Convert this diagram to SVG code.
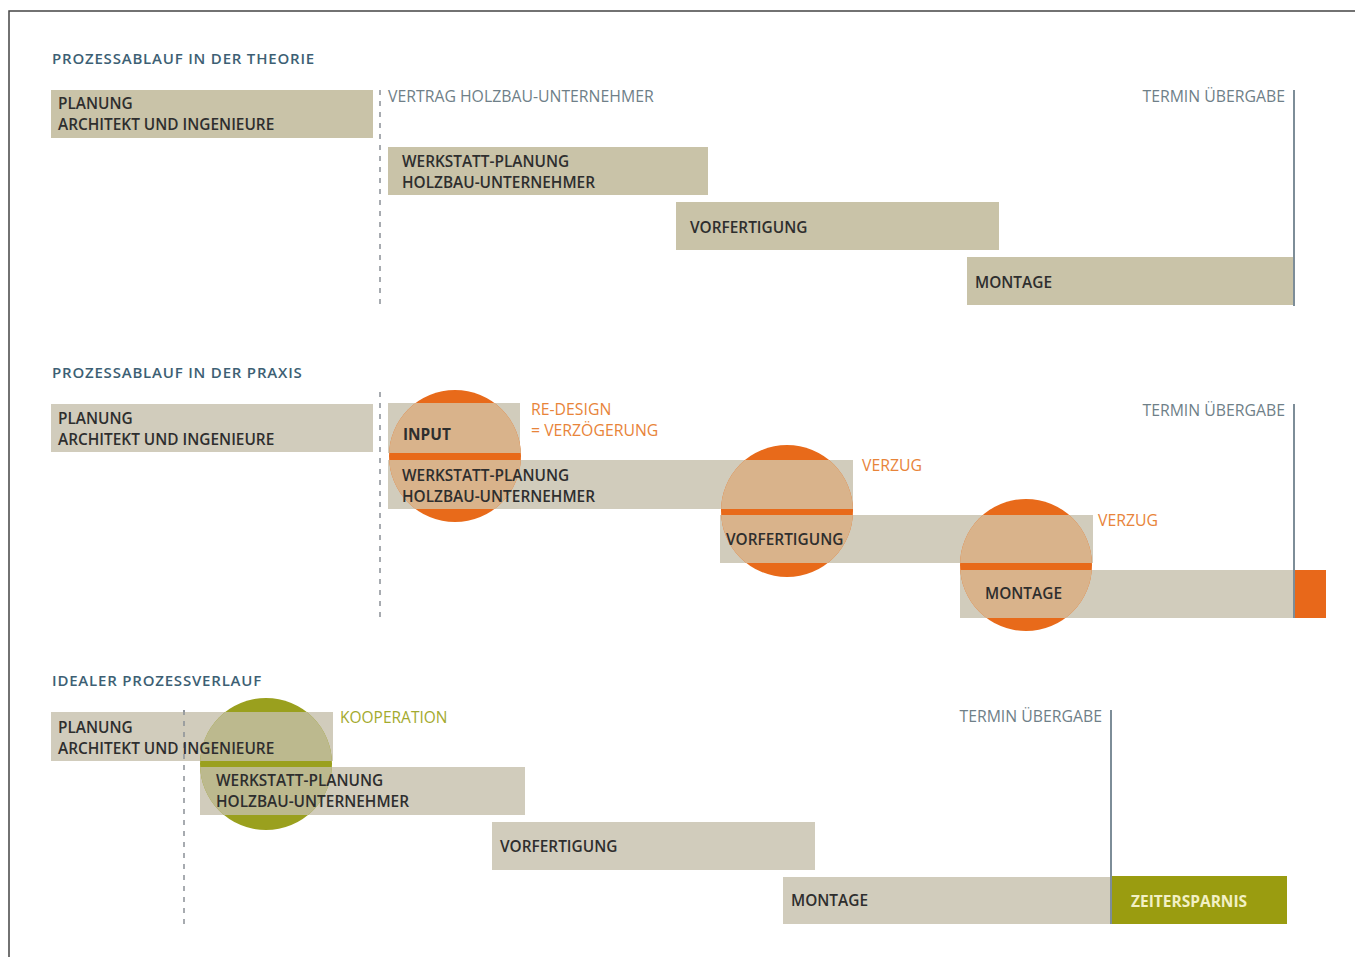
<svg xmlns="http://www.w3.org/2000/svg" width="1355" height="957" viewBox="0 0 1355 957">
<style>
.hd{font-family:"Open Sans","Liberation Sans",sans-serif;font-size:15px;font-weight:600;letter-spacing:0.8px;fill:#3d5f74}
.lb{font-family:"Open Sans","Liberation Sans",sans-serif;font-size:15.4px;font-weight:600;fill:#2e2e2e}
.gr{font-family:"Open Sans","Liberation Sans",sans-serif;font-size:15.8px;fill:#6f7f88}
.or{font-family:"Open Sans","Liberation Sans",sans-serif;font-size:15.8px;fill:#e8843a}
.ol{font-family:"Open Sans","Liberation Sans",sans-serif;font-size:15.5px;fill:#a3aa2e}
.b1{fill:#c9c3a8}
.b2{fill:#d1ccbc}
.dash{stroke:#8a9096;stroke-width:1.5;stroke-dasharray:5,6;fill:none}
.term{stroke:#7d8d98;stroke-width:2;fill:none}
.tan{fill:#d9b38b}
.orc{fill:#e86a1a}
</style>
<defs>
<clipPath id="c1"><circle cx="455" cy="456" r="66"/></clipPath>
<clipPath id="c2"><circle cx="787" cy="511" r="66"/></clipPath>
<clipPath id="c3"><circle cx="1026" cy="565" r="66"/></clipPath>
<clipPath id="c4"><circle cx="266" cy="764" r="66"/></clipPath>
</defs>
<rect x="0" y="0" width="1355" height="957" fill="#ffffff"/>
<path d="M9,957 V11 H1355" stroke="#444" stroke-width="1.5" fill="none"/>

<g id="connectors">
<line class="dash" x1="380" y1="90" x2="380" y2="305"/>
<line class="term" x1="1294" y1="90" x2="1294" y2="306"/>
<line class="dash" x1="380" y1="392" x2="380" y2="620"/>
<line class="dash" x1="184" y1="710" x2="184" y2="925"/>
</g>

<!-- Section 1 -->
<g id="theorie">
<text class="hd" x="52" y="64">PROZESSABLAUF IN DER THEORIE</text>
<text class="gr" x="388" y="102">VERTRAG HOLZBAU-UNTERNEHMER</text>
<text class="gr" x="1285" y="102" text-anchor="end">TERMIN ÜBERGABE</text>
</g>
<g id="t-planung">
<rect class="b1" x="51" y="90" width="322" height="48"/>
<text class="lb" x="58" y="109">PLANUNG</text>
<text class="lb" x="58" y="130">ARCHITEKT UND INGENIEURE</text>
</g>
<g id="t-werkstatt">
<rect class="b1" x="388" y="147" width="320" height="48"/>
<text class="lb" x="402" y="167">WERKSTATT-PLANUNG</text>
<text class="lb" x="402" y="188">HOLZBAU-UNTERNEHMER</text>
</g>
<g id="t-vorfertigung">
<rect class="b1" x="676" y="202" width="323" height="48"/>
<text class="lb" x="690" y="233">VORFERTIGUNG</text>
</g>
<g id="t-montage">
<rect class="b1" x="967" y="257" width="326" height="48"/>
<text class="lb" x="975" y="288">MONTAGE</text>
</g>

<!-- Section 2 -->
<g id="praxis">
<text class="hd" x="52" y="378">PROZESSABLAUF IN DER PRAXIS</text>
<text class="gr" x="1285" y="416" text-anchor="end">TERMIN ÜBERGABE</text>
<line class="term" x1="1294" y1="404" x2="1294" y2="618"/>
</g>
<g id="p-planung">
<rect class="b2" x="51" y="404" width="322" height="48"/>
<text class="lb" x="58" y="424">PLANUNG</text>
<text class="lb" x="58" y="445">ARCHITEKT UND INGENIEURE</text>
</g>
<g id="p-input">
<rect class="b2" x="388" y="403" width="132" height="50"/>
<rect class="b2" x="388" y="460" width="465" height="49"/>
<circle class="orc" cx="455" cy="456" r="66"/>
<g clip-path="url(#c1)">
<rect class="tan" x="380" y="403" width="150" height="50"/>
<rect class="tan" x="380" y="460" width="150" height="49"/>
</g>
<text class="lb" x="403" y="440" style="font-weight:700">INPUT</text>
<text class="lb" x="402" y="481">WERKSTATT-PLANUNG</text>
<text class="lb" x="402" y="502">HOLZBAU-UNTERNEHMER</text>
<text class="or" x="531" y="415">RE-DESIGN</text>
<text class="or" x="531" y="436">= VERZÖGERUNG</text>
</g>
<g id="p-vorfertigung">
<rect class="b2" x="720" y="515" width="373" height="48"/>
<circle class="orc" cx="787" cy="511" r="66"/>
<g clip-path="url(#c2)">
<rect class="tan" x="715" y="460" width="145" height="49"/>
<rect class="tan" x="715" y="515" width="145" height="48"/>
</g>
<text class="lb" x="726" y="545">VORFERTIGUNG</text>
<text class="or" x="862" y="471">VERZUG</text>
</g>
<g id="p-montage">
<rect class="b2" x="960" y="570" width="333" height="48"/>
<rect x="1295" y="570" width="31" height="48" fill="#e8681a"/>
<circle class="orc" cx="1026" cy="565" r="66"/>
<g clip-path="url(#c3)">
<rect class="tan" x="955" y="515" width="145" height="48"/>
<rect class="tan" x="955" y="570" width="145" height="48"/>
</g>
<text class="lb" x="985" y="599">MONTAGE</text>
<text class="or" x="1098" y="526">VERZUG</text>
</g>

<!-- Section 3 -->
<g id="ideal">
<text class="hd" x="52" y="686">IDEALER PROZESSVERLAUF</text>
<text class="gr" x="1102" y="722" text-anchor="end">TERMIN ÜBERGABE</text>
<line class="term" x1="1111" y1="710" x2="1111" y2="924"/>
</g>
<g id="i-kooperation">
<rect class="b2" x="51" y="712" width="282" height="49"/>
<rect class="b2" x="200" y="767" width="325" height="48"/>
<circle cx="266" cy="764" r="66" fill="#9aa01e"/>
<g clip-path="url(#c4)">
<rect x="195" y="712" width="145" height="49" fill="#bcb98e"/>
<rect x="195" y="767" width="145" height="48" fill="#bcb98e"/>
</g>
<line class="dash" x1="184" y1="710" x2="184" y2="765"/>
<text class="lb" x="58" y="733">PLANUNG</text>
<text class="lb" x="58" y="754">ARCHITEKT UND INGENIEURE</text>
<text class="lb" x="216" y="786">WERKSTATT-PLANUNG</text>
<text class="lb" x="216" y="807">HOLZBAU-UNTERNEHMER</text>
<text class="ol" x="340" y="723">KOOPERATION</text>
</g>
<g id="i-vorfertigung">
<rect class="b2" x="492" y="822" width="323" height="48"/>
<text class="lb" x="500" y="852">VORFERTIGUNG</text>
</g>
<g id="i-montage">
<rect class="b2" x="783" y="877" width="327" height="47"/>
<text class="lb" x="791" y="906">MONTAGE</text>
</g>
<g id="i-zeitersparnis">
<rect x="1112" y="876" width="175" height="48" fill="#9a9c10"/>
<text class="lb" x="1131" y="907" style="font-weight:700;font-size:15.5px;fill:#f2f0c4">ZEITERSPARNIS</text>
</g>
</svg>
